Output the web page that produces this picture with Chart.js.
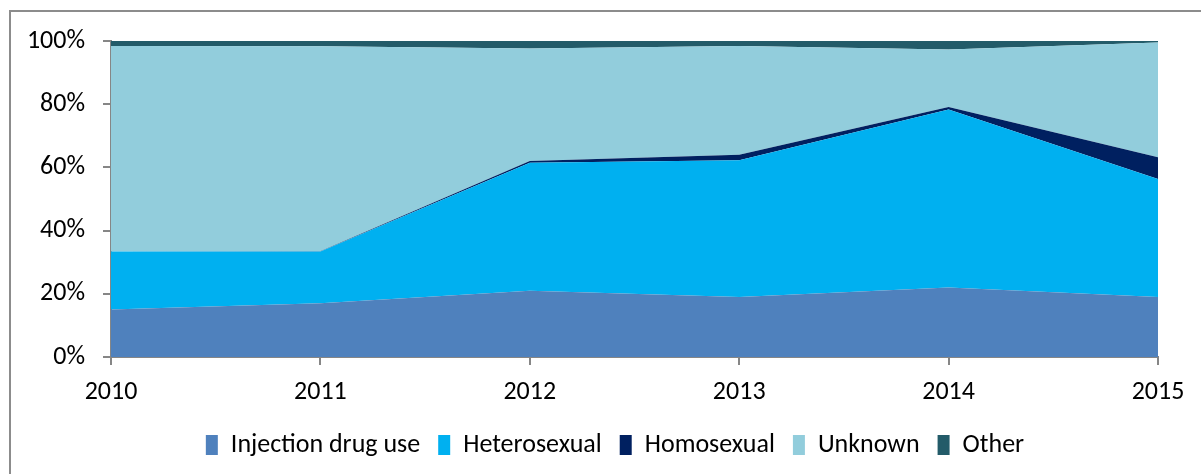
<!DOCTYPE html>
<html>
<head>
<meta charset="utf-8">
<script src="https://cdn.jsdelivr.net/npm/chart.js@4.4.1/dist/chart.umd.min.js"></script>
<style>
  html, body { margin: 0; padding: 0; background: #fff; overflow: hidden; }
  #frame {
    position: absolute; left: 9px; top: 10px;
    width: 1300px; height: 600px;
    border-left: 2px solid #8c8c8c; border-top: 2px solid #8c8c8c;
  }
  #wrap { position: absolute; left: 0; top: 0; width: 1201px; height: 474px; }
</style>
</head>
<body>
<div id="frame"></div>
<div id="wrap"><canvas id="chart"></canvas></div>
<script>
// Share of cases by transmission route (%)
const years = ['2010', '2011', '2012', '2013', '2014', '2015'];
const injectionDrugUse = [15, 17, 21, 19, 22, 19];
const heterosexual = [18.4, 16.4, 40.5, 43.3, 56.3, 37.3];
const homosexual = [0, 0.1, 0.5, 1.7, 0.8, 6.9];
const unknown = [65, 64.8, 35.6, 34.4, 18.2, 36.3];
const other = [1.6, 1.7, 2.4, 1.6, 2.7, 0.5];
const yTicks = [0, 20, 40, 60, 80, 100];

const FONT = 'Carlito, Calibri, Lato, sans-serif';
const AXIS = '#868686';

function area(label, data, color, fill) {
  return {
    label: label,
    data: data,
    backgroundColor: color,
    borderColor: color,
    borderWidth: 0,
    pointRadius: 0,
    pointHoverRadius: 0,
    fill: fill,
    tension: 0
  };
}

// legend sits a bit right of centre in the original
const legendShift = {
  id: 'legendShift',
  afterLayout(chart) {
    if (chart.legend) {
      chart.legend.left += 36;
      chart.legend.right += 36;
    }
  }
};

const ctx = document.getElementById('chart');
new Chart(ctx, {
  type: 'line',
  data: {
    labels: years,
    datasets: [
      area('Injection drug use', injectionDrugUse, '#4F81BD', 'origin'),
      area('Heterosexual', heterosexual, '#00B0F0', '-1'),
      area('Homosexual', homosexual, '#002060', '-1'),
      area('Unknown', unknown, '#92CDDC', '-1'),
      area('Other', other, '#235B69', '-1')
    ]
  },
  options: {
    responsive: true,
    maintainAspectRatio: false,
    animation: false,
    layout: {
      padding: { left: 0, right: 43, top: 41, bottom: 6 }
    },
    scales: {
      x: {
        type: 'category',
        offset: false,
        grid: { drawOnChartArea: false, drawTicks: true, tickLength: 8, color: AXIS, lineWidth: 2 },
        border: { color: AXIS, width: 2 },
        ticks: {
          color: '#000',
          font: { family: FONT, size: 26 },
          padding: 12,
          maxRotation: 0
        },
        afterFit: function(scale) { scale.height = 57; }
      },
      y: {
        stacked: true,
        min: 0,
        max: 100,
        afterBuildTicks: function(scale) {
          scale.ticks = yTicks.map(v => ({ value: v }));
        },
        grid: { drawOnChartArea: false, drawTicks: true, tickLength: 8, color: AXIS, lineWidth: 2 },
        border: { color: AXIS, width: 2 },
        ticks: {
          color: '#000',
          font: { family: FONT, size: 26 },
          padding: 18,
          callback: function(value) { return value + '%'; }
        },
        afterFit: function(scale) { scale.width = 111; }
      }
    },
    plugins: {
      legend: {
        position: 'bottom',
        labels: {
          color: '#000',
          font: { family: FONT, size: 26 },
          boxWidth: 12,
          boxHeight: 20,
          padding: 18
        }
      },
      tooltip: { enabled: false }
    }
  },
  plugins: [legendShift]
});
</script>
</body>
</html>
